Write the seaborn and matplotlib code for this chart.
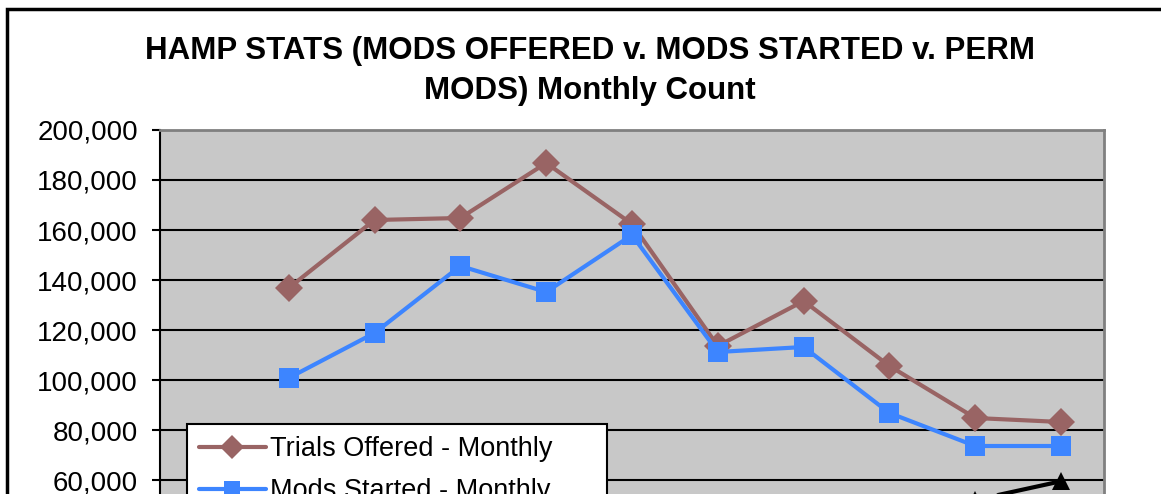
import numpy as np
import pandas as pd
import seaborn as sns
import matplotlib.pyplot as plt
from matplotlib.patches import Rectangle
from matplotlib.ticker import FuncFormatter, MultipleLocator

# monthly counts (first month has no data, lower part of chart is cropped)
months = ['May-09', 'Jun-09', 'Jul-09', 'Aug-09', 'Sep-09', 'Oct-09',
          'Nov-09', 'Dec-09', 'Jan-10', 'Feb-10', 'Mar-10']
trials_offered = [np.nan, 136800, 164000, 164800, 186800, 162400,
                  113600, 131600, 105600, 84800, 83200]
mods_started = [np.nan, 100800, 118800, 145600, 135200, 158000,
                111200, 113200, 86800, 73600, 73600]
perm_mods = [np.nan, np.nan, np.nan, 1500, 3000, 8000,
             14000, 22000, 34000, 52000, 59500]

sns.set_theme(style='white')
plt.rcParams['font.family'] = ['Liberation Sans', 'DejaVu Sans']
plt.rcParams['text.color'] = 'black'

fig = plt.figure(figsize=(11.61, 4.94), dpi=100)
ax = fig.add_axes([160 / 1161, (494 - 630) / 494, 944 / 1161, 500 / 494])
ax.set_facecolor('#C8C8C8')

x = np.arange(len(months))
series = [
    ('Trials Offered - Monthly', trials_offered, '#996464', 'D', 14),
    ('Mods Started - Monthly', mods_started, '#3D85FF', 's', 14),
    ('Permanent Mods - Monthly', perm_mods, '#000000', '^', 13),
]
for label, vals, col, mk, ms in series:
    sns.lineplot(x=x, y=vals, ax=ax, color=col, marker=mk, markersize=ms,
                 markeredgewidth=0, linewidth=3, label=label)

ax.set_xlim(-0.5, len(months) - 0.5)
ax.set_ylim(0, 200000)
ax.yaxis.set_major_locator(MultipleLocator(20000))
ax.yaxis.set_major_formatter(FuncFormatter(lambda v, p: f'{int(v):,}'))
ax.set_xticks(x)
ax.set_xticklabels(months)
ax.tick_params(axis='x', labelbottom=False)
ax.grid(axis='y', color='black', linewidth=1.5)
ax.tick_params(axis='y', which='major', left=True, length=6, width=1.5,
               color='black', pad=10, labelsize=20, labelcolor='black')
ax.spines['left'].set_color('black')
ax.spines['left'].set_linewidth(1.5)
for s in ['top', 'right']:
    ax.spines[s].set_color('#808080')
    ax.spines[s].set_linewidth(2)

leg = ax.legend(loc='upper left', bbox_to_anchor=(187 / 1161, 1 - 424 / 494),
                bbox_transform=fig.transFigure, frameon=True, fancybox=False,
                fontsize=19.5, handlelength=2.45, handletextpad=0.15,
                labelspacing=0.6, borderpad=0.45, borderaxespad=0)
leg.get_frame().set_edgecolor('black')
leg.get_frame().set_linewidth(1.5)
leg.get_frame().set_facecolor('white')
leg.get_frame().set_alpha(1)
for line in leg.get_lines():
    line.set_markersize(12)
for t in leg.get_texts():
    t.set_color('black')

fig.text(590 / 1161, 1 - 71 / 494,
         'HAMP STATS (MODS OFFERED v. MODS STARTED v. PERM\nMODS) Monthly Count',
         ha='center', va='center', fontsize=22.5, fontweight='bold',
         linespacing=1.4, color='black')

fig.patches.append(Rectangle((7 / 1161, -0.5), 2, 1 - 9 / 494 + 0.5,
                             transform=fig.transFigure, fill=False,
                             edgecolor='black', linewidth=2.5))

fig.savefig('out.png', dpi=100)
